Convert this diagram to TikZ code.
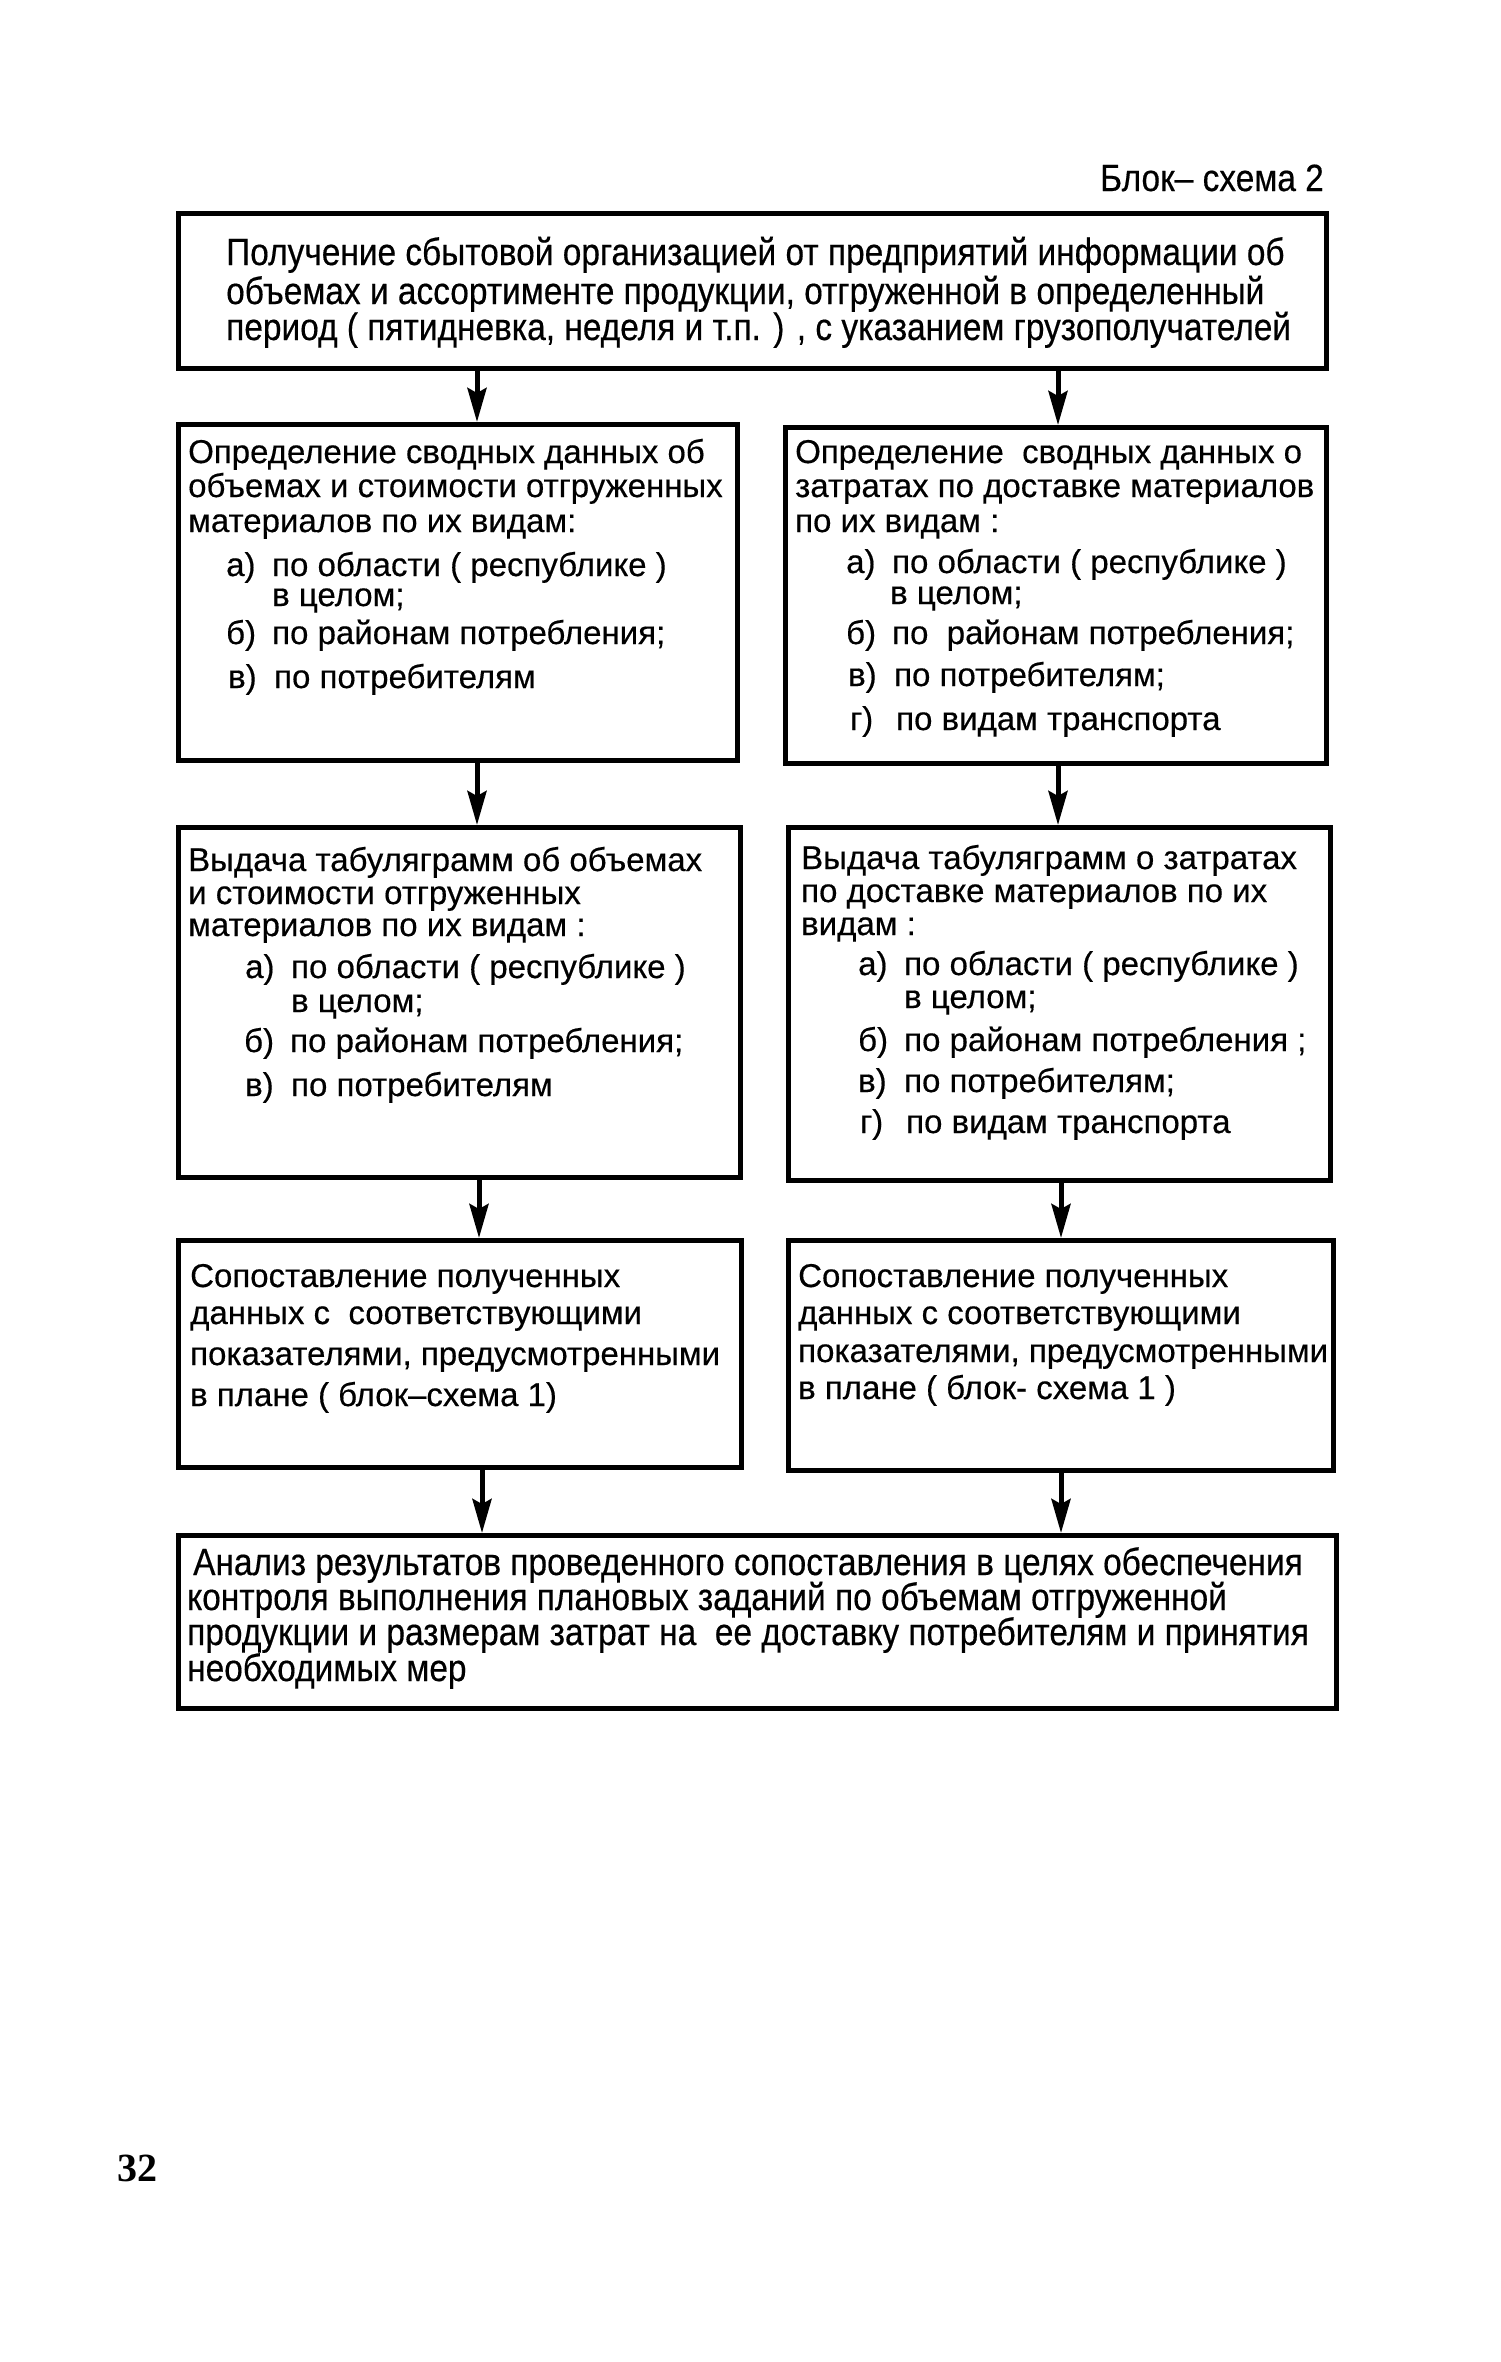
\documentclass[tikz,border=0pt]{standalone}
\usepackage{fontspec}
\setmainfont[FakeBold=0.4]{Liberation Sans}
\newfontfamily\narrowfont[FakeStretch=0.88,FakeBold=0.4]{Liberation Sans}
\newfontfamily\pagefont{Liberation Serif}
\usetikzlibrary{arrows.meta}
\newcommand{\itm}[1]{\makebox[46pt][l]{#1}}
\begin{document}
\begin{tikzpicture}[x=1pt,y=-1pt,
  box/.style={draw, line width=5pt, inner sep=0pt, anchor=north west},
  txt/.style={anchor=base west, inner sep=0pt, font=\fontsize{33}{35}\selectfont},
  ntxt/.style={anchor=base west, inner sep=0pt, font=\narrowfont\fontsize{38}{40}\selectfont},
  arr/.style={line width=5pt, -{Stealth[length=34pt,width=19pt,inset=5pt]}}
]
\useasboundingbox (0,0) rectangle (1500,2362);

% header and page number
\node[anchor=base east, inner sep=0pt, font=\narrowfont\fontsize{38}{40}\selectfont] (hdr) at (1324,191) {Блок– схема 2};
\node[anchor=base west, inner sep=0pt, font=\pagefont\bfseries\fontsize{40}{42}\selectfont] (pg) at (117,2181) {32};

% boxes
\node[box, minimum width=1148pt, minimum height=155pt] (top) at (176,211) {};
\node[box, minimum width=559pt, minimum height=336pt] (L2) at (176,422) {};
\node[box, minimum width=541pt, minimum height=336pt] (R2) at (783,425) {};
\node[box, minimum width=562pt, minimum height=350pt] (L3) at (176,825) {};
\node[box, minimum width=542pt, minimum height=353pt] (R3) at (786,825) {};
\node[box, minimum width=563pt, minimum height=227pt] (L4) at (176,1238) {};
\node[box, minimum width=545pt, minimum height=230pt] (R4) at (786,1238) {};
\node[box, minimum width=1158pt, minimum height=173pt] (bot) at (176,1533) {};

% arrow columns
\coordinate (xa) at (477,0);
\coordinate (xb) at (1058,0);
\coordinate (xc) at (479,0);
\coordinate (xd) at (1061,0);
\coordinate (xe) at (482,0);

\draw[arr] (xa |- top.south) -- (xa |- L2.north);
\draw[arr] (xb |- top.south) -- (xb |- R2.north);
\draw[arr] (xa |- L2.south) -- (xa |- L3.north);
\draw[arr] (xb |- R2.south) -- (xb |- R3.north);
\draw[arr] (xc |- L3.south) -- (xc |- L4.north);
\draw[arr] (xd |- R3.south) -- (xd |- R4.north);
\draw[arr] (xe |- L4.south) -- (xe |- bot.north);
\draw[arr] (xd |- R4.south) -- (xd |- bot.north);

% top box text
\node[ntxt] (t1) at (226,265) {Получение сбытовой организацией от предприятий информации об};
\node[ntxt] (t2) at (226,304) {объемах и ассортименте продукции, отгруженной в определенный};
\node[ntxt] (t3) at (226,340) {период ( пятидневка, неделя и т.п. ) , с указанием грузополучателей};

% L2
\node[txt] (l2a) at (188,463) {Определение сводных данных об};
\node[txt] (l2b) at (188,497) {объемах и стоимости отгруженных};
\node[txt] (l2c) at (188,532) {материалов по их видам:};
\node[txt] (l2d) at (226,576) {\itm{а)}по области ( республике )};
\node[txt] (l2e) at (272,606) {в целом;};
\node[txt] (l2f) at (226,644) {\itm{б)}по районам потребления;};
\node[txt] (l2g) at (228,688) {\itm{в)}по потребителям};

% R2
\node[txt] (r2a) at (795,463) {Определение \ сводных данных о};
\node[txt] (r2b) at (795,497) {затратах по доставке материалов};
\node[txt] (r2c) at (795,532) {по их видам :};
\node[txt] (r2d) at (846,573) {\itm{а)}по области ( республике )};
\node[txt] (r2e) at (890,604) {в целом;};
\node[txt] (r2f) at (846,644) {\itm{б)}по \ районам потребления;};
\node[txt] (r2g) at (848,686) {\itm{в)}по потребителям;};
\node[txt] (r2h) at (850,730) {\itm{г)}по видам транспорта};

% L3
\node[txt] (l3a) at (188,871) {Выдача табуляграмм об объемах};
\node[txt] (l3b) at (188,904) {и стоимости отгруженных};
\node[txt] (l3c) at (188,936) {материалов по их видам :};
\node[txt] (l3d) at (245,978) {\itm{а)}по области ( республике )};
\node[txt] (l3e) at (291,1012) {в целом;};
\node[txt] (l3f) at (244,1052) {\itm{б)}по районам потребления;};
\node[txt] (l3g) at (245,1096) {\itm{в)}по потребителям};

% R3
\node[txt] (r3a) at (801,869) {Выдача табуляграмм о затратах};
\node[txt] (r3b) at (801,902) {по доставке материалов по их};
\node[txt] (r3c) at (801,935) {видам :};
\node[txt] (r3d) at (858,975) {\itm{а)}по области ( республике )};
\node[txt] (r3e) at (904,1008) {в целом;};
\node[txt] (r3f) at (858,1051) {\itm{б)}по районам потребления ;};
\node[txt] (r3g) at (858,1092) {\itm{в)}по потребителям;};
\node[txt] (r3h) at (860,1133) {\itm{г)}по видам транспорта};

% L4
\node[txt] (l4a) at (190,1287) {Сопоставление полученных};
\node[txt] (l4b) at (190,1324) {данных с \ соответствующими};
\node[txt] (l4c) at (190,1365) {показателями, предусмотренными};
\node[txt] (l4d) at (190,1406) {в плане ( блок–схема 1)};

% R4
\node[txt] (r4a) at (798,1287) {Сопоставление полученных};
\node[txt] (r4b) at (798,1324) {данных с соответствующими};
\node[txt] (r4c) at (798,1362) {показателями, предусмотренными};
\node[txt] (r4d) at (798,1399) {в плане ( блок- схема 1 )};

% bottom
\node[ntxt] (b1) at (193,1575) {Анализ результатов проведенного сопоставления в целях обеспечения};
\node[ntxt] (b2) at (187,1610) {контроля выполнения плановых заданий по объемам отгруженной};
\node[ntxt] (b3) at (187,1645) {продукции и размерам затрат на \ ее доставку потребителям и принятия};
\node[ntxt] (b4) at (187,1681) {необходимых мер};
\end{tikzpicture}
\end{document}
